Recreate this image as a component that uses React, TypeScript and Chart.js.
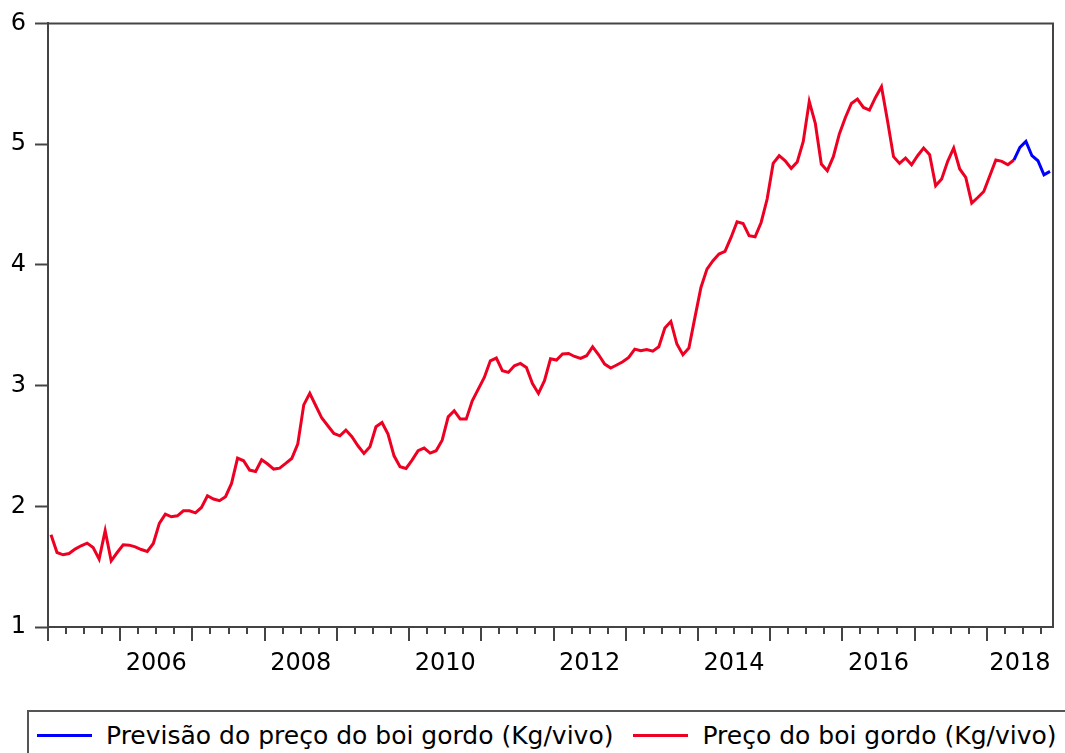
import React, { useEffect, useRef } from 'react';
import { Chart, registerables } from 'chart.js';

Chart.register(...registerables);

// Monthly observations, Jan 2005 onwards (R$/kg live weight)
const precoBoi = [
  1.764, 1.617, 1.598, 1.609, 1.645, 1.673, 1.695, 1.659, 1.562, 1.797, 1.548, 1.617,
  1.681, 1.678, 1.664, 1.642, 1.626, 1.692, 1.858, 1.935, 1.913, 1.921, 1.963, 1.963,
  1.946, 1.990, 2.087, 2.060, 2.046, 2.079, 2.189, 2.399, 2.377, 2.300, 2.288, 2.385,
  2.350, 2.308, 2.316, 2.355, 2.396, 2.515, 2.840, 2.935, 2.833, 2.731, 2.667, 2.603,
  2.584, 2.631, 2.576, 2.501, 2.438, 2.493, 2.659, 2.694, 2.598, 2.418, 2.327, 2.313,
  2.383, 2.460, 2.482, 2.441, 2.460, 2.548, 2.741, 2.791, 2.722, 2.722, 2.874, 2.971,
  3.067, 3.205, 3.228, 3.123, 3.109, 3.164, 3.183, 3.150, 3.017, 2.935, 3.040, 3.222,
  3.211, 3.261, 3.266, 3.241, 3.225, 3.247, 3.321, 3.255, 3.178, 3.145, 3.170, 3.197,
  3.233, 3.302, 3.288, 3.299, 3.285, 3.321, 3.476, 3.531, 3.344, 3.255, 3.311, 3.565,
  3.813, 3.965, 4.034, 4.089, 4.111, 4.227, 4.357, 4.343, 4.241, 4.233, 4.351, 4.545,
  4.840, 4.904, 4.862, 4.799, 4.852, 5.022, 5.354, 5.172, 4.835, 4.780, 4.896, 5.084,
  5.221, 5.337, 5.373, 5.304, 5.282, 5.387, 5.476, 5.194, 4.896, 4.840, 4.885, 4.829,
  4.904, 4.968, 4.912, 4.655, 4.711, 4.857, 4.968, 4.794, 4.724, 4.512, 4.558, 4.608,
  4.738, 4.868, 4.857, 4.829, 4.868,
];

// Forecast, starting at the last observed month
const previsao = [4.868, 4.973, 5.022, 4.904, 4.862, 4.746, 4.774];
const forecastStart = 160;

const nObs = 167;
const firstYear = 2005;
const yearLabels = ['2006', '2008', '2010', '2012', '2014', '2016', '2018'];
const yTicks = [1, 2, 3, 4, 5, 6];

const seriesNames = ['Previsão do preço do boi gordo (Kg/vivo)', 'Preço do boi gordo (Kg/vivo)'];
const seriesColors = ['#0000ff', '#ee0022'];

const FONT = "'DejaVu Sans', 'Liberation Sans', sans-serif";
const AXIS_COLOR = '#444';

const labelPositions = yearLabels.map((y) => {
  const start = (Number(y) - firstYear) * 12;
  const end = Math.min(start + 12, nObs);
  return (start + end) / 2;
});

const tickMarks = {
  id: 'tickMarks',
  afterDraw(chart: any) {
    const { ctx, chartArea: a, scales } = chart;
    const xs = scales.x;
    ctx.save();
    ctx.strokeStyle = AXIS_COLOR;
    ctx.lineWidth = 2;
    ctx.beginPath();
    ctx.moveTo(a.left - 1, a.top);
    ctx.lineTo(a.right, a.top);
    ctx.lineTo(a.right, a.bottom);
    ctx.stroke();
    for (let m = 0; m < nObs; m += 3) {
      const px = Math.round(xs.getPixelForValue(m));
      const len = m % 12 === 0 ? 14 : 7;
      ctx.beginPath();
      ctx.moveTo(px, a.bottom);
      ctx.lineTo(px, a.bottom + len);
      ctx.stroke();
    }
    ctx.restore();
  },
};

export default function App() {
  const ref = useRef<HTMLCanvasElement | null>(null);

  useEffect(() => {
    document.body.style.margin = '0';
    const canvas = ref.current;
    if (!canvas) return;
    const redData = precoBoi.map((v, i) => ({ x: i + 0.5, y: v }));
    const blueData = previsao.map((v, k) => ({ x: forecastStart + k + 0.5, y: v }));
    const chart = new Chart(canvas, {
      type: 'line',
      data: {
        datasets: [
          {
            label: seriesNames[0],
            data: blueData,
            borderColor: seriesColors[0],
            backgroundColor: seriesColors[0],
            borderWidth: 3,
            pointRadius: 0,
            tension: 0,
          },
          {
            label: seriesNames[1],
            data: redData,
            borderColor: seriesColors[1],
            backgroundColor: seriesColors[1],
            borderWidth: 3,
            pointRadius: 0,
            tension: 0,
          },
        ],
      },
      options: {
        animation: false,
        responsive: false,
        devicePixelRatio: 1,
        parsing: false as any,
        layout: { padding: { top: 22, right: 12, left: 0, bottom: 0 } },
        plugins: { legend: { display: false }, tooltip: { enabled: false } },
        scales: {
          x: {
            type: 'linear',
            min: 0,
            max: nObs,
            afterBuildTicks: (s: any) => {
              s.ticks = labelPositions.map((v) => ({ value: v }));
            },
            afterFit: (s: any) => {
              s.height = 73;
            },
            ticks: {
              autoSkip: false,
              maxRotation: 0,
              minRotation: 0,
              padding: 8,
              color: '#000',
              font: { family: FONT, size: 24 },
              callback: (v: any) => {
                const idx = labelPositions.indexOf(Number(v));
                return idx >= 0 ? yearLabels[idx] : '';
              },
            },
            grid: {
              display: true,
              drawOnChartArea: false,
              drawTicks: true,
              tickLength: 14,
              tickColor: 'rgba(0,0,0,0)',
            },
            border: { display: true, color: AXIS_COLOR, width: 2 },
          },
          y: {
            type: 'linear',
            min: 1,
            max: 6,
            afterBuildTicks: (s: any) => {
              s.ticks = yTicks.map((v) => ({ value: v }));
            },
            afterFit: (s: any) => {
              s.width = 48;
            },
            ticks: {
              padding: 9,
              color: '#000',
              font: { family: FONT, size: 24 },
            },
            grid: {
              display: true,
              drawOnChartArea: false,
              drawTicks: true,
              tickLength: 13,
              tickColor: AXIS_COLOR,
              tickWidth: 2,
            },
            border: { display: true, color: AXIS_COLOR, width: 2 },
          },
        },
      },
      plugins: [tickMarks],
    });
    return () => chart.destroy();
  }, []);

  return (
    <div
      style={{
        position: 'relative',
        width: 1065,
        height: 753,
        overflow: 'hidden',
        background: '#fff',
      }}
    >
      <canvas ref={ref} width={1065} height={700} style={{ display: 'block', width: 1065, height: 700 }} />
      <div
        style={{
          position: 'absolute',
          left: 27,
          top: 710,
          width: 1100,
          height: 60,
          border: '2px solid #555',
          boxSizing: 'border-box',
          background: '#fff',
        }}
      >
        <div
          style={{
            display: 'flex',
            alignItems: 'center',
            height: 46,
            paddingLeft: 8,
            fontFamily: FONT,
            fontSize: 25,
            color: '#000',
            whiteSpace: 'nowrap',
          }}
        >
          {seriesNames.map((name, i) => (
            <React.Fragment key={name}>
              <span
                style={{
                  display: 'inline-block',
                  width: 55,
                  height: 3,
                  background: seriesColors[i],
                  marginLeft: i === 0 ? 0 : 20,
                  marginRight: 14,
                }}
              />
              <span>{name}</span>
            </React.Fragment>
          ))}
        </div>
      </div>
    </div>
  );
}
